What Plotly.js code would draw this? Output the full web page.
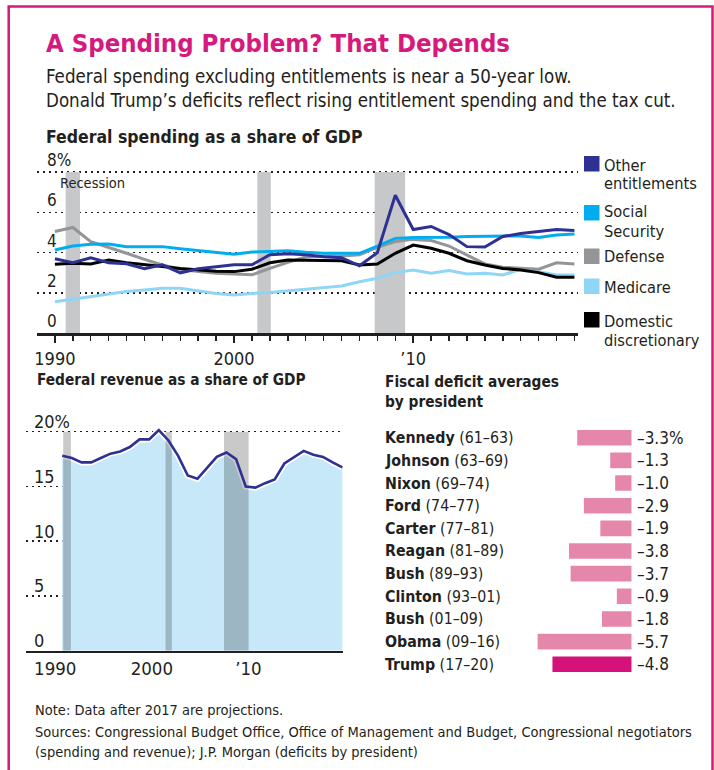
<!DOCTYPE html>
<html><head><meta charset="utf-8">
<script src="https://cdn.plot.ly/plotly-3.0.1.min.js"></script>
<style>html,body{margin:0;padding:0;background:#fff}</style>
</head><body><div id="chart" style="width:714px;height:770px"></div>
<script>
// ---------- DATA ----------
const years = [1990,1991,1992,1993,1994,1995,1996,1997,1998,1999,2000,2001,2002,2003,2004,2005,2006,2007,2008,2009,2010,2011,2012,2013,2014,2015,2016,2017,2018,2019];
const otherEntitlements = [3.7,3.5,3.75,3.5,3.45,3.2,3.4,3.0,3.2,3.3,3.4,3.4,3.9,3.95,3.9,3.8,3.75,3.35,4.0,6.85,5.15,5.3,4.9,4.3,4.28,4.8,4.95,5.05,5.15,5.1];
const socialSecurity = [4.13,4.33,4.42,4.43,4.3,4.3,4.3,4.2,4.1,4.0,3.92,4.03,4.08,4.1,4.02,3.97,3.97,3.97,4.33,4.71,4.75,4.75,4.76,4.8,4.8,4.8,4.83,4.75,4.88,4.93];
const defense = [5.05,5.25,4.55,4.27,3.97,3.67,3.39,3.18,3.06,2.98,2.93,2.9,3.22,3.52,3.78,3.84,3.84,3.89,4.27,4.55,4.66,4.6,4.33,3.89,3.44,3.28,3.22,3.18,3.5,3.44];
const medicare = [1.57,1.69,1.82,1.95,2.07,2.15,2.23,2.23,2.11,1.98,1.9,1.98,2.02,2.11,2.18,2.28,2.35,2.56,2.73,3.01,3.14,2.98,3.11,2.94,2.98,2.89,3.18,3.06,2.89,2.89];
const domesticDiscretionary = [3.42,3.47,3.44,3.64,3.5,3.39,3.31,3.22,3.14,3.08,3.06,3.18,3.5,3.64,3.62,3.6,3.6,3.39,3.44,3.97,4.38,4.22,3.97,3.6,3.39,3.22,3.14,3.01,2.78,2.78];
const recessionStart = [1990.6, 2001.3, 2007.85];
const recessionEnd = [1991.4, 2002.05, 2009.55];
const spendTickVals = [0, 2, 4, 6, 8];
const spendTickText = ['0', '2', '4', '6', '8%'];

const revenue = [17.8,17.6,17.2,17.2,17.6,18.0,18.2,18.6,19.3,19.3,20.15,19.2,17.8,16.0,15.7,16.7,17.7,18.1,17.5,15.0,14.9,15.3,15.65,17.1,17.7,18.25,17.9,17.7,17.2,16.75];
const revBandStart = [1990.1, 2000.7, 2006.75];
const revBandEnd = [1990.9, 2001.35, 2009.3];
const revTickVals = [0, 5, 10, 15, 20];
const revTickText = ['0', '5', '10', '15', '20%'];

const presidents = ["Kennedy","Johnson","Nixon","Ford","Carter","Reagan","Bush","Clinton","Bush","Obama","Trump"];
const terms = ["61–63","63–69","69–74","74–77","77–81","81–89","89–93","93–01","01–09","09–16","17–20"];
const deficits = [-3.3,-1.3,-1.0,-2.9,-1.9,-3.8,-3.7,-0.9,-1.8,-5.7,-4.8];
const deficitLabels = ["–3.3%","–1.3","–1.0","–2.9","–1.9","–3.8","–3.7","–0.9","–1.8","–5.7","–4.8"];

const seriesNames = [["Other","entitlements"],["Social","Security"],["Defense"],["Medicare"],["Domestic","discretionary"]];
const seriesColors = ["#2e3192","#00aeef","#939598","#8fd6f6","#000000"];

// ---------- STYLE ----------
const W = 714, H = 770;
const px = v => v / W, py = v => 1 - v / H;
const NARROW = '"Liberation Sans Narrow","DejaVu Sans Condensed","Arial Narrow",sans-serif';
const INK = '#231f20';
const PINK = '#d6197d';
const GRIDDASH = '1.6px,4.4px';

const seriesData = [otherEntitlements, socialSecurity, defense, medicare, domesticDiscretionary];
const drawOrder = [3, 2, 4, 1, 0];

const traces = [];
drawOrder.forEach(i => {
  traces.push({type:'scatter', mode:'lines', x: years, y: seriesData[i], xaxis:'x', yaxis:'y',
    line:{color: seriesColors[i], width:3}, hoverinfo:'skip', showlegend:false});
});

// revenue area
traces.push({type:'scatter', mode:'lines', x: years, y: revenue, xaxis:'x2', yaxis:'y2', fill:'tozeroy',
  fillcolor:'#c6e8f8', line:{color:'#ffffff', width:6}, hoverinfo:'skip', showlegend:false});
revBandStart.forEach((s, k) => {
  const e = revBandEnd[k];
  traces.push({type:'scatter', mode:'lines', x:[s,s,e,e,s], y:[0,20,20,0,0], xaxis:'x2', yaxis:'y2',
    fill:'toself', fillcolor:'rgba(0,0,0,0.21)', line:{width:0}, hoverinfo:'skip', showlegend:false});
});
traces.push({type:'scatter', mode:'lines', x: years, y: revenue, xaxis:'x2', yaxis:'y2',
  line:{color:'#2e3192', width:2.6}, hoverinfo:'skip', showlegend:false});

// deficit bars
const barCats = presidents.map((p, i) => p + ' (' + terms[i] + ')');
traces.push({type:'bar', orientation:'h', x: deficits, y: barCats, xaxis:'x3', yaxis:'y3',
  marker:{color: presidents.map((p, i) => i === presidents.length - 1 ? '#d5127a' : '#e487aa')},
  hoverinfo:'skip', showlegend:false});

const shapes = [];
shapes.push({type:'rect', xref:'paper', yref:'paper', x0:px(8.7), x1:px(712.5), y0:py(6.5), y1:-0.2,
  line:{color:PINK, width:2.5}, fillcolor:'rgba(0,0,0,0)', layer:'above'});
recessionStart.forEach((s, k) => {
  shapes.push({type:'rect', xref:'x', yref:'y', x0:s, x1:recessionEnd[k], y0:0, y1:8,
    fillcolor:'#c7c8ca', line:{width:0}, layer:'between'});
});
const legendSquareTop = [156, 205, 248.5, 278.5, 312];
seriesColors.forEach((c, i) => {
  shapes.push({type:'rect', xref:'paper', yref:'paper', x0:px(584), x1:px(599.5),
    y0:py(legendSquareTop[i]), y1:py(legendSquareTop[i] + 15.5), fillcolor:c, line:{width:0}});
});

const annotations = [];
function txt(text, x, y, size, opts) {
  annotations.push(Object.assign({text, xref:'paper', yref:'paper', x:px(x), y:py(y),
    xanchor:'left', yanchor:'middle', showarrow:false, align:'left',
    font:{family:NARROW, size, color:INK}}, opts || {}));
}
txt('<b>A Spending Problem? That Depends</b>', 44, 43, 25.5, {font:{family:NARROW, size:25.5, color:PINK}});
txt('Federal spending excluding entitlements is near a 50-year low.', 44, 77, 18.6);
txt('Donald Trump’s deficits reflect rising entitlement spending and the tax cut.', 44, 100, 18.6);
txt('<b>Federal spending as a share of GDP</b>', 44, 137, 17.5);
txt('Recession', 58, 183, 14.5);
txt('<b>Federal revenue as a share of GDP</b>', 35, 380, 15.3);
txt('<b>Fiscal deficit averages</b><br><b>by president</b>', 383, 371, 15.3, {yanchor:'top'});
txt('Note: Data after 2017 are projections.', 33, 710, 14.5);
txt('Sources: Congressional Budget Office, Office of Management and Budget, Congressional negotiators', 33, 731.5, 14.5);
txt('(spending and revenue); J.P. Morgan (deficits by president)', 33, 751.5, 14.5);

spendTickVals.forEach((v, i) => {
  annotations.push({text: spendTickText[i], xref:'paper', yref:'y', x:px(45), y:v, xanchor:'left',
    yanchor:'middle', yshift:12, showarrow:false, font:{family:NARROW, size:17, color:INK}});
});
revTickVals.forEach((v, i) => {
  annotations.push({text: revTickText[i], xref:'paper', yref:'y2', x:px(32), y:v, xanchor:'left',
    yanchor:'middle', yshift:10, showarrow:false, font:{family:NARROW, size:18, color:INK}});
});

const legendLineY = [[165, 184], [212, 231], [257], [287], [321.5, 340.5]];
seriesNames.forEach((lines, i) => {
  lines.forEach((l, j) => txt(l, 602, legendLineY[i][j], 16.3));
});

barCats.forEach((c, i) => {
  annotations.push({text:'<b>' + presidents[i] + '</b> (' + terms[i] + ')', xref:'paper', yref:'y3',
    x:px(383), y:c, xanchor:'left', yanchor:'middle', showarrow:false,
    font:{family:NARROW, size:15.8, color:INK}});
  annotations.push({text:deficitLabels[i], xref:'x3', yref:'y3', x:0, y:c, xanchor:'left', xshift:3,
    yanchor:'middle', showarrow:false, font:{family:NARROW, size:17, color:INK}});
});

const layout = {
  width: W, height: H, margin:{l:0, r:0, t:0, b:0},
  paper_bgcolor:'#ffffff', plot_bgcolor:'rgba(0,0,0,0)',
  showlegend:false, bargap:0.31,
  font:{family:NARROW, color:INK},
  xaxis:{domain:[px(37), px(578)], range:[1989, 2019.2], anchor:'y',
    tickmode:'array', tickvals:[1990,1995,2000,2005,2010,2015], ticktext:['1990','','2000','','’10',''],
    ticks:'outside', ticklen:7, tickwidth:1.5, tickcolor:INK,
    minor:{tickmode:'array', tickvals: years, ticks:'outside', ticklen:4.5, tickwidth:1.5, tickcolor:INK},
    showline:true, linewidth:3, linecolor:INK, showgrid:false, zeroline:false,
    tickfont:{family:NARROW, size:18, color:INK}, fixedrange:true},
  yaxis:{domain:[py(333.3), py(151.9)], range:[0, 9], anchor:'x',
    tickmode:'array', tickvals: spendTickVals, showticklabels:false,
    ticks:'', showgrid:true, gridcolor:INK, griddash:GRIDDASH, gridwidth:1.5,
    zeroline:false, showline:false, fixedrange:true},
  xaxis2:{domain:[px(26), px(343)], range:[1986.25, 2019.07], anchor:'y2',
    tickmode:'array', tickvals:[1990,2000,2010], ticktext:['1990','2000','’10'], ticks:'',
    ticklabelshift:-7, showline:true, linewidth:2.5, linecolor:INK, showgrid:false, zeroline:false,
    tickfont:{family:NARROW, size:18.5, color:INK}, fixedrange:true},
  yaxis2:{domain:[py(650.7), py(415.3)], range:[0, 21.5], anchor:'x2',
    tickmode:'array', tickvals: revTickVals, showticklabels:false,
    ticks:'', showgrid:true, gridcolor:INK, griddash:GRIDDASH, gridwidth:1.5,
    zeroline:false, showline:false, fixedrange:true},
  xaxis3:{domain:[px(527.7), px(631.7)], range:[-6.3, 0], anchor:'y3', visible:false, fixedrange:true},
  yaxis3:{domain:[py(675.6), py(426.4)], type:'category', categoryorder:'array', categoryarray: barCats,
    range:[10.5, -0.5], anchor:'x3', visible:false, fixedrange:true},
  shapes, annotations
};

Plotly.newPlot('chart', traces, layout, {staticPlot:true, displayModeBar:false});
</script>
</body></html>
